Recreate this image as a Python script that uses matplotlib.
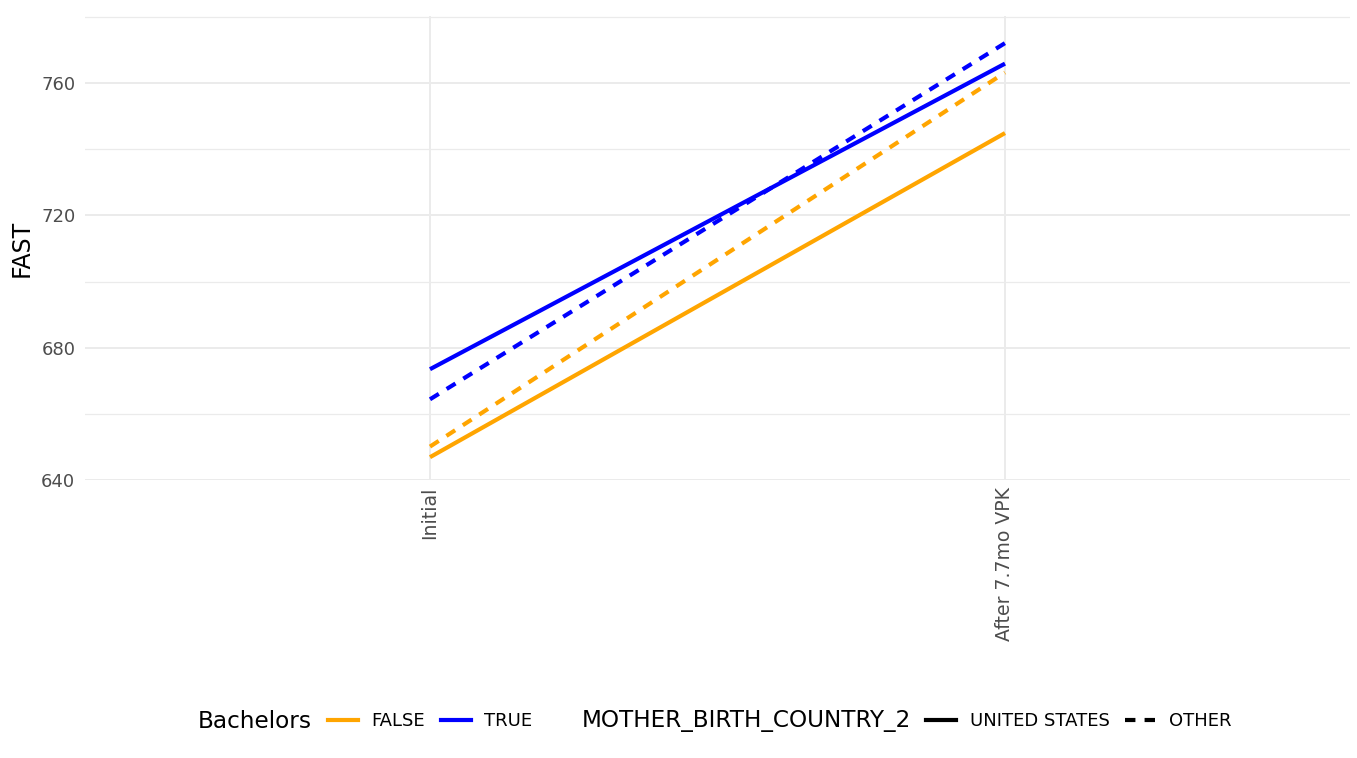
import matplotlib
matplotlib.use("Agg")
import matplotlib.pyplot as plt
from matplotlib.lines import Line2D
import numpy as np

plt.rcParams['font.family'] = ['DejaVu Sans']

timepoints = ["Initial", "After 7.7mo VPK"]
bach_levels = ["FALSE", "TRUE"]
country_levels = ["UNITED STATES", "OTHER"]
# FAST values per (Bachelors, Country) group at each timepoint
false_us = [646.9, 744.9]
false_other = [650.1, 763.2]
true_us = [673.5, 765.9]
true_other = [664.4, 772.1]

colors = {"FALSE": "#FFA500", "TRUE": "#0000FF"}
dash = {"UNITED STATES": "solid", "OTHER": (0, (2.5, 2.2))}

W, H = 1357, 758
fig = plt.figure(figsize=(W / 100, H / 100), dpi=100)
ax = fig.add_axes([85 / W, 1 - 480 / H, (1350 - 85) / W, (480 - 16) / H])

x = np.arange(1, len(timepoints) + 1)
series = [("FALSE", "UNITED STATES", false_us), ("FALSE", "OTHER", false_other),
          ("TRUE", "UNITED STATES", true_us), ("TRUE", "OTHER", true_other)]
for b, c, vals in series:
    ax.plot(x, vals, color=colors[b], linestyle=dash[c], lw=3.0,
            solid_capstyle='butt', dash_capstyle='butt')

ax.set_xlim(0.4, 2.6)
ax.set_ylim(640, 780.3)
ax.set_yticks([640, 680, 720, 760])
ax.set_yticks([660, 700, 740, 780], minor=True)
ax.set_xticks(x)
ax.set_xticklabels(timepoints, rotation=90, va='top', ha='center')
ax.tick_params(axis='both', which='both', length=0, colors='#4d4d4d')
ax.tick_params(axis='y', pad=7, labelsize=13)
ax.tick_params(axis='x', pad=5, labelsize=13.6)
for s in ax.spines.values():
    s.set_visible(False)
ax.grid(True, which='major', color='#EBEBEB', lw=1.4)
ax.grid(True, which='minor', axis='y', color='#EBEBEB', lw=0.9)
ax.set_axisbelow(True)
ax.set_ylabel("FAST", fontsize=17, color='black', labelpad=5)

# Legends
ly = 1 - 721 / H
fig.text(198 / W, ly, "Bachelors", fontsize=16.7, va='center', ha='left')
h1 = [Line2D([], [], color=colors[b], lw=3.0) for b in bach_levels]
leg1 = fig.legend(h1, bach_levels, loc='center left', bbox_to_anchor=(328 / W, ly),
                  ncol=2, frameon=False, fontsize=13, handlelength=1.67,
                  handletextpad=0.75, columnspacing=0.85, borderaxespad=0, borderpad=0)
fig.text(582 / W, ly, "MOTHER_BIRTH_COUNTRY_2", fontsize=16.7, va='center', ha='left')
h2 = [Line2D([], [], color='black', lw=3.0, linestyle=dash[c]) for c in country_levels]
leg2 = fig.legend(h2, country_levels, loc='center left', bbox_to_anchor=(926 / W, ly),
                  ncol=2, frameon=False, fontsize=13, handlelength=1.67,
                  handletextpad=0.75, columnspacing=0.85, borderaxespad=0, borderpad=0)

fig.savefig("out.png", dpi=100, facecolor='white')
